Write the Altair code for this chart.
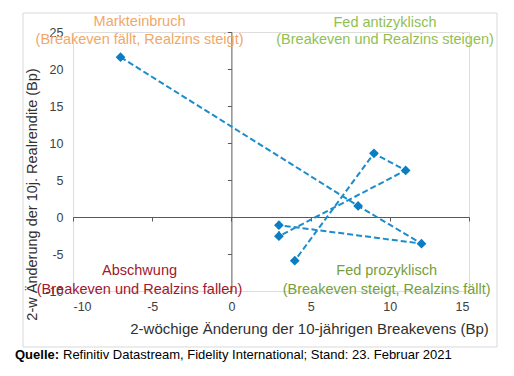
import altair as alt
import pandas as pd

# --- data ---
breakeven = [-7, 8, 12, 3, 3, 11, 9, 4]
realrendite = [21.6, 1.5, -3.6, -1.1, -2.6, 6.3, 8.6, -5.9]
step = [1, 2, 3, 4, 5, 6, 7, 8]

quad_text = ["Markteinbruch", "(Breakeven fällt, Realzins steigt)",
             "Fed antizyklisch", "(Breakeven und Realzins steigen)",
             "Abschwung", "(Breakeven und Realzins fallen)",
             "Fed prozyklisch", "(Breakeven steigt, Realzins fällt)"]
quad_x = [-5.8, -5.8, 9.7, 9.7, -5.8, -5.8, 9.8, 9.8]
quad_y = [26.4, 23.9, 26.2, 23.9, -7.3, -9.8, -7.3, -9.8]
quad_color = ["#F0A868", "#F0A868", "#92C050", "#92C050",
              "#A0182E", "#A0182E", "#77A03A", "#77A03A"]

x_ticks = [-10, -5, 0, 5, 10, 15]
y_ticks = [-10, -5, 0, 5, 10, 15, 20, 25]

source_bold = "Quelle:"
source_rest = "Refinitiv Datastream, Fidelity International; Stand: 23. Februar 2021"

df = pd.DataFrame({"x": breakeven, "y": realrendite, "step": step})
qdf = pd.DataFrame({"x": quad_x, "y": quad_y, "t": quad_text, "c": quad_color})
one = pd.DataFrame({"a": [0]})

W, H = 396, 259
FONT = "Liberation Sans"

xscale = alt.Scale(domain=[-10, 15], nice=False, zero=False)
yscale = alt.Scale(domain=[-10, 25], nice=False, zero=False)

# axis with labels at plot edges
line = alt.Chart(df).mark_line(
    strokeDash=[6, 3], strokeWidth=2, color="#1C8CCB"
).encode(
    x=alt.X("x:Q", scale=xscale, axis=alt.Axis(
        values=x_ticks, domain=False, ticks=False, grid=False, orient="bottom",
        labelExpr="toString(datum.value)",
        labelPadding=9, labelFontSize=12.5, labelColor="#404040", labelFont=FONT,
        title="2-wöchige Änderung der 10-jährigen Breakevens (Bp)",
        titleFont=FONT, titleFontSize=15, titleFontWeight="normal", titleColor="#303030",
        titleX=236, titleY=37, titleBaseline="middle", titleAlign="center")),
    y=alt.Y("y:Q", scale=yscale, axis=alt.Axis(
        values=y_ticks, domain=False, ticks=False, grid=False, orient="left",
        labelExpr="toString(datum.value)",
        labelPadding=10, labelFontSize=12.5, labelColor="#404040", labelFont=FONT,
        title="2-w Änderung der 10j. Realrendite (Bp)",
        titleFont=FONT, titleFontSize=14.5, titleFontWeight="normal", titleColor="#303030",
        titleX=-41, titleY=162, titleAngle=270, titleBaseline="middle", titleAlign="center")),
    order="step:Q",
)

# axis lines through zero
pts = alt.Chart(df).mark_point(
    shape="diamond", filled=True, size=95, color="#0B7DC3", opacity=1
).encode(
    x=alt.X("x:Q", scale=xscale, axis=alt.Axis(
        values=x_ticks, labels=False, title=None, grid=False, orient="bottom",
        offset=-74, domainColor="#595959", tickColor="#595959", tickSize=4,
        domainWidth=1, tickWidth=1)),
    y=alt.Y("y:Q", scale=yscale, axis=alt.Axis(
        values=y_ticks, labels=False, title=None, grid=False, orient="left",
        offset=-158.4, domainColor="#595959", tickColor="#595959", tickSize=4,
        domainWidth=1, tickWidth=1)),
)

frame = alt.Chart(one).mark_rect(fillOpacity=0, stroke="#D9D9D9", strokeWidth=1).encode(
    x=alt.value(-50), x2=alt.value(424), y=alt.value(-19), y2=alt.value(315)
)

quads = alt.Chart(qdf).mark_text(font=FONT, fontSize=14.5, baseline="middle", align="center").encode(
    x=alt.X("x:Q", scale=xscale, axis=None),
    y=alt.Y("y:Q", scale=yscale, axis=None),
    text="t:N",
    color=alt.Color("c:N", scale=None),
)

src1 = alt.Chart(one).mark_text(font=FONT, fontSize=13, fontWeight="bold", align="left",
                                baseline="middle", color="black").encode(
    x=alt.value(-58), y=alt.value(323), text=alt.value(source_bold))
src2 = alt.Chart(one).mark_text(font=FONT, fontSize=13, align="left",
                                baseline="middle", color="black").encode(
    x=alt.value(-10), y=alt.value(323), text=alt.value(source_rest))

chart = alt.layer(
    line, pts, frame, quads, src1, src2
).resolve_axis(x="independent", y="independent").properties(
    width=W, height=H,
    autosize=alt.AutoSizeParams(type="none"),
    padding={"left": 73, "top": 32, "right": 45, "bottom": 85},
).configure_view(strokeWidth=0).configure(background="white")

chart.save("out.html", embed_options={"renderer": "svg", "actions": False})
